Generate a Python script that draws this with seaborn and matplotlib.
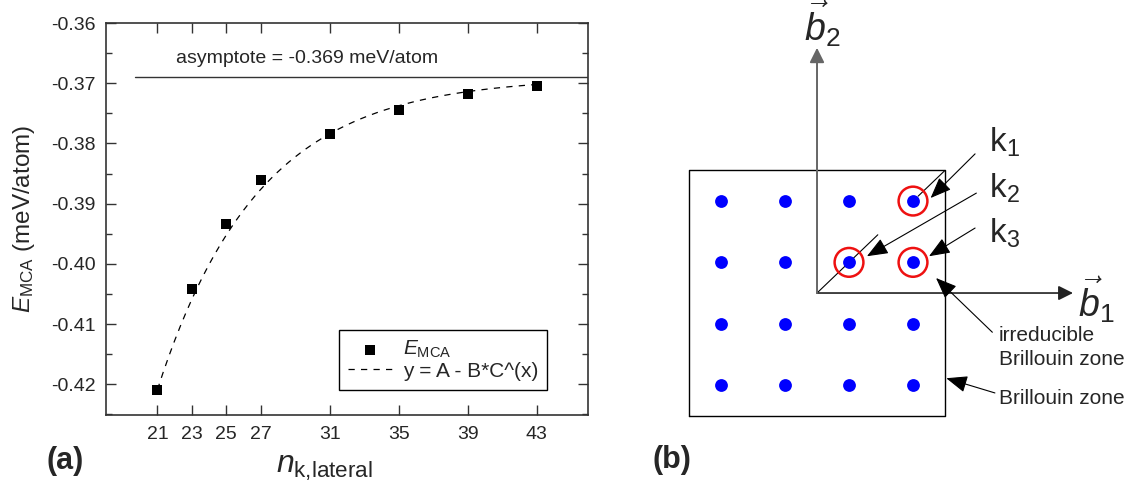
import numpy as np
import pandas as pd
import seaborn as sns
import matplotlib.pyplot as plt
from matplotlib.ticker import MultipleLocator, FormatStrFormatter

# panel (a) data: MCA energy vs lateral k-point count
n_k = [21, 23, 25, 27, 31, 35, 39, 43]
e_mca = [-0.4209, -0.4042, -0.3934, -0.3861, -0.3784, -0.3745, -0.3718, -0.3704]
x_ticks = [21, 23, 25, 27, 31, 35, 39, 43]
y_ticks = [-0.42, -0.41, -0.40, -0.39, -0.38, -0.37, -0.36]

# fit y = A - B*C^(x) (B scaled to x=21)
fit_A = -0.369
fit_B21 = 0.0519
fit_C = 0.8429
asymptote = -0.369

# panel (b) data: k-point grid and highlighted points
grid_x = [-1.5, -0.5, 0.5, 1.5]
grid_y = [1.5, 0.5, -0.5, -1.5]
k_points_x = [1.5, 0.5, 1.5]
k_points_y = [1.5, 0.5, 0.5]
k_labels = ['1', '2', '3']

sns.set_style('ticks')
plt.rcParams['font.family'] = ['Liberation Sans', 'DejaVu Sans']
plt.rcParams['mathtext.fontset'] = 'custom'
plt.rcParams['mathtext.rm'] = 'Liberation Sans'
plt.rcParams['mathtext.it'] = 'Liberation Sans:italic'
plt.rcParams['mathtext.bf'] = 'Liberation Sans:bold'
plt.rcParams['axes.unicode_minus'] = False

fig = plt.figure(figsize=(11.35, 4.86), dpi=100)

# ---------- panel (a) ----------
ax = fig.add_axes([105.7 / 1135, 71 / 486, 482.6 / 1135, 392 / 486])

pts = pd.DataFrame({'n': n_k, 'E': e_mca})
x_fit = np.linspace(n_k[0], n_k[-1], 200)
fit_df = pd.DataFrame({'n': x_fit,
                       'E': fit_A - fit_B21 * fit_C ** (x_fit - n_k[0])})

sns.lineplot(data=fit_df, x='n', y='E', ax=ax, color='black', lw=0.9,
             linestyle=(0, (5, 5)), label='y = A - B*C^(x)', zorder=2)
sns.scatterplot(data=pts, x='n', y='E', ax=ax, marker='s', s=46, color='black',
                edgecolor='black', linewidth=0, label=r'$E_{\mathrm{MCA}}$', zorder=3)
ax.plot([19.7, 46], [asymptote, asymptote], color='#333333', lw=1.0, zorder=1)
ax.text(22.1, -0.3659, 'asymptote = -0.369 meV/atom', fontsize=14, va='center')

ax.set_xlim(18, 46)
ax.set_ylim(-0.4251, -0.36)
ax.set_xticks(x_ticks)
ax.set_yticks(y_ticks)
ax.yaxis.set_minor_locator(MultipleLocator(0.005))
ax.yaxis.set_major_formatter(FormatStrFormatter('%.2f'))
ax.tick_params(which='both', direction='in', top=True, right=True,
               color='#333333', width=1)
ax.tick_params(which='major', length=7, labelsize=14)
ax.tick_params(which='minor', length=4)
ax.tick_params(axis='x', pad=8)
ax.tick_params(axis='y', pad=7)
for sp in ax.spines.values():
    sp.set_color('#333333')
    sp.set_linewidth(1.2)

ax.set_xlabel('')
ax.set_ylabel(r'$E_{\mathrm{MCA}}$ (meV/atom)', fontsize=17.5)
ax.yaxis.set_label_coords(-0.142, 0.5)
fig.text(324 / 1135, 1 - 473 / 486, r'$n_{\mathrm{k{,}lateral}}$', fontsize=23,
         ha='center', va='baseline')

# legend: markers first
handles, labels = ax.get_legend_handles_labels()
order = [labels.index(r'$E_{\mathrm{MCA}}$'), labels.index('y = A - B*C^(x)')]
leg = ax.legend([handles[i] for i in order], [labels[i] for i in order],
                loc='lower right', bbox_to_anchor=(0.915, 0.064), borderaxespad=0,
                fontsize=15, frameon=True, fancybox=False, framealpha=1,
                edgecolor='black', handlelength=2.1, handletextpad=0.5,
                borderpad=0.45, labelspacing=0.05)
leg.get_frame().set_linewidth(1.0)

fig.text(46 / 1135, 1 - 461 / 486, '(a)', fontsize=22, fontweight='bold', va='center')

# ---------- panel (b) ----------
ax2 = fig.add_axes([640 / 1135, 0, 495 / 1135, 1])
ax2.set_xlim(-2.766, 4.969)
ax2.set_ylim(-3.148, 4.78)
ax2.axis('off')

# Brillouin zone square
ax2.plot([-2, 2, 2, -2, -2], [-2, -2, 2, 2, -2], color='black', lw=1.0)
# irreducible zone diagonal (broken where k1 arrow passes)
ax2.plot([0, 0.95], [0, 0.95], color='black', lw=0.8)
ax2.plot([1.58, 2], [1.58, 2], color='black', lw=0.8)

# reciprocal vectors
ax2.annotate('', xy=(4.0, 0), xytext=(0, 0),
             arrowprops=dict(arrowstyle='-|>', color='#222222', lw=1.2,
                             mutation_scale=22, shrinkA=0, shrinkB=0))
ax2.annotate('', xy=(0, 4.0), xytext=(0, 0),
             arrowprops=dict(arrowstyle='-|>', color='#666666', lw=1.4,
                             mutation_scale=22, shrinkA=0, shrinkB=0))
ax2.text(4.36, -0.11, r'$\vec{b}_1$', fontsize=27, ha='center', va='center')
ax2.text(0.08, 4.4, r'$\vec{b}_2$', fontsize=27, ha='center', va='center')

grid = pd.DataFrame([(gx, gy) for gy in grid_y for gx in grid_x], columns=['x', 'y'])
sns.scatterplot(data=grid, x='x', y='y', ax=ax2, color='#0000ff', s=85,
                linewidth=0, zorder=3, legend=False)
ax2.scatter(k_points_x, k_points_y, s=430, facecolors='none',
            edgecolors='#ee1111', linewidths=1.8, zorder=4)
ax2.set_xlabel('')
ax2.set_ylabel('')

arrow_kw = dict(arrowstyle='-|>,head_length=0.5,head_width=0.2', color='black',
                lw=0.8, mutation_scale=26, shrinkA=0, shrinkB=0)
k_tails = [(2.47, 2.27), (2.49, 1.63), (2.47, 1.06)]
k_heads = [(1.775, 1.55), (0.78, 0.60), (1.75, 0.60)]
k_text_y = [2.46, 1.71, 0.98]
for lab, tail, head, ty in zip(k_labels, k_tails, k_heads, k_text_y):
    ax2.annotate('', xy=head, xytext=tail, arrowprops=arrow_kw)
    ax2.text(2.69, ty, r'k$_{\mathrm{' + lab + '}}$', fontsize=24, va='center')

ax2.annotate('', xy=(1.86, 0.245), xytext=(2.74, -0.64), arrowprops=arrow_kw)
ax2.text(2.84, -0.685, 'irreducible', fontsize=15, va='center')
ax2.text(2.84, -1.077, 'Brillouin zone', fontsize=15, va='center')
ax2.annotate('', xy=(2.02, -1.39), xytext=(2.78, -1.63), arrowprops=arrow_kw)
ax2.text(2.84, -1.72, 'Brillouin zone', fontsize=15, va='center')

fig.text(653 / 1135, 1 - 460 / 486, '(b)', fontsize=22, fontweight='bold', va='center')

fig.savefig('out.png', dpi=100)
